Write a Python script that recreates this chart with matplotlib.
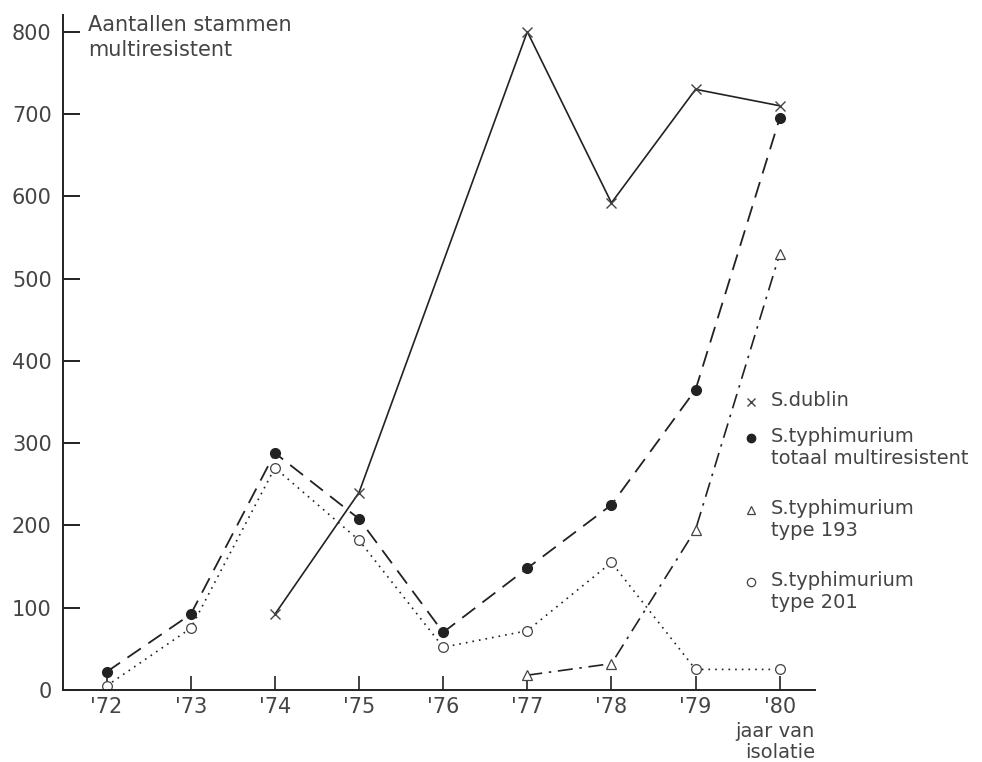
import matplotlib
matplotlib.use('Agg')
from matplotlib import pyplot as plt
from matplotlib.lines import Line2D

# Jaar van isolatie (x-positie) en tick labels
years = [1972, 1973, 1974, 1975, 1976, 1977, 1978, 1979, 1980]
year_labels = ["'72", "'73", "'74", "'75", "'76", "'77", "'78", "'79", "'80"]

# S.dublin
dublin_years = [1974, 1975, 1977, 1978, 1979, 1980]
dublin = [92, 240, 800, 592, 730, 710]

# S.typhimurium totaal multiresistent
totaal_years = [1972, 1973, 1974, 1975, 1976, 1977, 1978, 1979, 1980]
totaal = [22, 92, 288, 208, 70, 148, 225, 365, 695]

# S.typhimurium type 193
t193_years = [1977, 1978, 1979, 1980]
t193 = [18, 32, 195, 530]

# S.typhimurium type 201
t201_years = [1972, 1973, 1974, 1975, 1976, 1977, 1978, 1979, 1980]
t201 = [5, 75, 270, 182, 52, 72, 155, 25, 25]

yticks = [0, 100, 200, 300, 400, 500, 600, 700, 800]

legend_labels = ['S.dublin', 'S.typhimurium\ntotaal multiresistent',
                 'S.typhimurium\ntype 193', 'S.typhimurium\ntype 201']

ink = '#222222'
txt = '#444444'

fig = plt.figure(figsize=(9.82, 7.62), dpi=100)
ax = fig.add_axes([0.064, 0.0945, 0.766, 0.8855])

ax.plot(dublin_years, dublin, color=ink, lw=1.2, ls='-',
        marker='x', ms=7, mew=1.0, mec=txt)
ax.plot(totaal_years, totaal, color=ink, lw=1.3, ls=(0, (9, 5)),
        marker='o', ms=7, mfc=ink, mec=ink)
ax.plot(t193_years, t193, color=ink, lw=1.2, ls=(0, (9, 4, 1.5, 4)),
        marker='^', ms=6.5, mfc='white', mec=txt, mew=0.9)
ax.plot(t201_years, t201, color=ink, lw=1.2, ls=(0, (1, 3)),
        marker='o', ms=7, mfc='white', mec=txt, mew=0.9)

ax.set_xlim(1971.48, 1980.42)
ax.set_ylim(0, 820)
ax.set_xticks(years)
ax.set_xticklabels(year_labels)
ax.set_yticks(yticks)
ax.set_yticklabels([str(v) for v in yticks])

for side in ['top', 'right']:
    ax.spines[side].set_visible(False)
for side in ['left', 'bottom']:
    ax.spines[side].set_color(ink)
    ax.spines[side].set_linewidth(1.4)

ax.tick_params(axis='y', direction='in', length=12, width=1.4, color=ink,
               labelsize=15, labelcolor=txt, pad=8)
ax.tick_params(axis='x', direction='in', length=10, width=1.2, color=ink,
               labelsize=15, labelcolor=txt, pad=5)

ax.text(0.033, 1.0, 'Aantallen stammen\nmultiresistent', transform=ax.transAxes,
        ha='left', va='top', fontsize=15, color=txt, linespacing=1.3)
ax.text(1.0, -0.047, 'jaar van\nisolatie', transform=ax.transAxes,
        ha='right', va='top', fontsize=14, color=txt, linespacing=1.15)

# handmatige legenda: marker naast de eerste regel van elk label
markers = [dict(marker='x', ms=6, mec=txt, mew=1.0),
           dict(marker='o', ms=6, mfc=ink, mec=ink),
           dict(marker='^', ms=6, mfc='white', mec=txt, mew=0.9),
           dict(marker='o', ms=6, mfc='white', mec=txt, mew=0.9)]
row_y = [402, 438, 510, 582]
for lab, mk, yp in zip(legend_labels, markers, row_y):
    fy = 1 - yp / 762
    fig.add_artist(Line2D([751 / 982], [fy], ls='none', transform=fig.transFigure, **mk))
    fig.text(771 / 982, fy + 11 / 762, lab, ha='left', va='top', fontsize=14,
             color=txt, linespacing=1.2)

fig.savefig('out.png', dpi=100)
